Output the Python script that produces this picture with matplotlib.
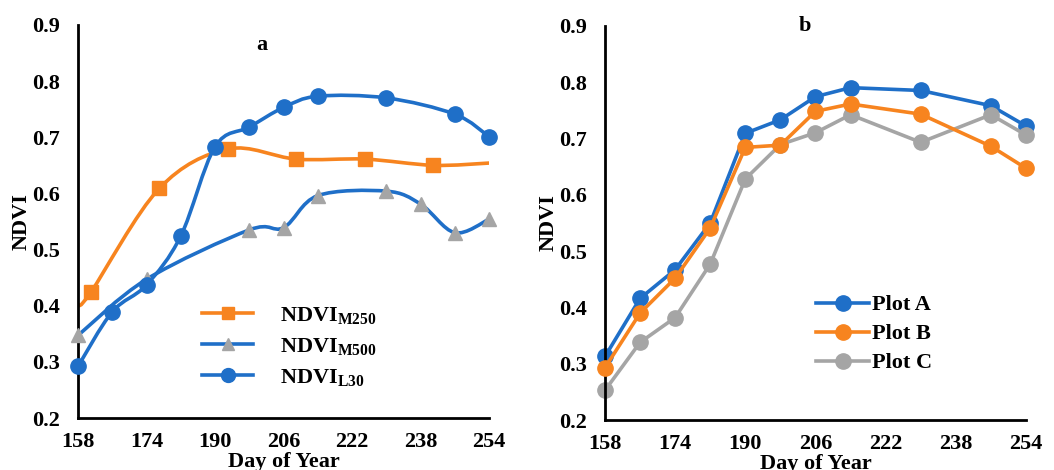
import numpy as np
import matplotlib
matplotlib.use("Agg")
import matplotlib.pyplot as plt
from matplotlib.path import Path
from matplotlib.patches import PathPatch
from matplotlib.lines import Line2D

plt.rcParams['font.family'] = ['Liberation Serif', 'DejaVu Serif']
plt.rcParams['font.weight'] = 'bold'
plt.rcParams['mathtext.fontset'] = 'custom'
plt.rcParams['mathtext.bf'] = 'Liberation Serif:bold'
plt.rcParams['mathtext.rm'] = 'Liberation Serif:bold'

blue = '#1f6fc8'
orange = '#f7841f'
gray = '#a5a5a5'

# panel a
m250_day = [158, 161, 177, 193, 209, 225, 241, 254]
m250_val = [0.400, 0.424, 0.609, 0.679, 0.661, 0.661, 0.650, 0.654]
m500_day = [158, 174, 198, 206, 214, 230, 238, 246, 254]
m500_val = [0.347, 0.447, 0.535, 0.539, 0.596, 0.604, 0.581, 0.530, 0.554]
l30_day = [158, 166, 174, 182, 190, 198, 206, 214, 230, 246, 254]
l30_val = [0.292, 0.389, 0.437, 0.524, 0.683, 0.718, 0.753, 0.773, 0.770, 0.741, 0.701]

# panel b
doy = [158, 166, 174, 182, 190, 198, 206, 214, 230, 246, 254]
plot_a = [0.313, 0.416, 0.467, 0.550, 0.709, 0.733, 0.774, 0.790, 0.785, 0.758, 0.722]
plot_b = [0.293, 0.390, 0.452, 0.541, 0.684, 0.688, 0.748, 0.761, 0.743, 0.686, 0.647]
plot_c = [0.253, 0.338, 0.382, 0.477, 0.628, 0.689, 0.710, 0.742, 0.693, 0.742, 0.706]

xticks = [158, 174, 190, 206, 222, 238, 254]
yticks = [0.2, 0.3, 0.4, 0.5, 0.6, 0.7, 0.8, 0.9]


def smooth(ax, x, y, color):
    # excel style smoothed line: cubic bezier segments through the points
    p = np.column_stack([x, y]).astype(float)
    verts = [p[0]]
    codes = [Path.MOVETO]
    n = len(p)
    for i in range(n - 1):
        p0 = p[i - 1] if i > 0 else p[i]
        p3 = p[i + 2] if i + 2 < n else p[i + 1]
        c1 = p[i] + (p[i + 1] - p0) / 6.0
        c2 = p[i + 1] - (p3 - p[i]) / 6.0
        verts += [c1, c2, p[i + 1]]
        codes += [Path.CURVE4] * 3
    ax.add_patch(PathPatch(Path(verts, codes), fill=False, edgecolor=color,
                           lw=2.6, capstyle='round', joinstyle='round', zorder=2))


def style(ax):
    ax.set_xlim(158, 254)
    ax.set_ylim(0.2, 0.9)
    ax.set_xticks(xticks)
    ax.set_yticks(yticks)
    ax.set_yticklabels(['%.1f' % v for v in yticks])
    for s in ['top', 'right']:
        ax.spines[s].set_visible(False)
    for s in ['left', 'bottom']:
        ax.spines[s].set_linewidth(2)
    ax.tick_params(axis='x', length=0, pad=10, labelsize=16)
    ax.tick_params(axis='y', length=0, pad=13, labelsize=16)
    ax.set_xlabel('Day of Year', fontsize=16, fontweight='bold', labelpad=0)
    ax.set_ylabel('NDVI', fontsize=16, fontweight='bold', labelpad=0)


fig = plt.figure(figsize=(10.54, 4.70), dpi=100)
ax1 = fig.add_axes([0.074, 0.1106, 0.39, 0.8364])
ax2 = fig.add_axes([0.574, 0.106, 0.3994, 0.8394])

# a
smooth(ax1, m250_day, m250_val, orange)
smooth(ax1, m500_day, m500_val, blue)
smooth(ax1, l30_day, l30_val, blue)
ax1.plot(m250_day[1:-1], m250_val[1:-1], 's', color=orange, ms=10, zorder=3, clip_on=False)
ax1.plot(m500_day, m500_val, '^', color=gray, ms=10, zorder=3, clip_on=False)
ax1.plot(l30_day, l30_val, 'o', color=blue, ms=11, zorder=4, clip_on=False)
style(ax1)
ax1.text(0.448, 0.949, 'a', transform=ax1.transAxes, ha='center', va='center',
         fontsize=16, fontweight='bold')
h1 = [Line2D([], [], color=orange, lw=2.6, marker='s', ms=9),
      Line2D([], [], color=blue, lw=2.6, marker='^', ms=9, mfc=gray, mec=gray),
      Line2D([], [], color=blue, lw=2.6, marker='o', ms=10)]
ax1.legend(h1, [r'NDVI$_{\mathbf{M250}}$', r'NDVI$_{\mathbf{M500}}$', r'NDVI$_{\mathbf{L30}}$'],
           loc='upper left', bbox_to_anchor=(0.28, 0.31), frameon=False,
           fontsize=16, handlelength=2.3, handletextpad=1.2, labelspacing=0.42,
           borderaxespad=0)

# b
ax2.plot(doy, plot_c, '-o', color=gray, lw=2.6, ms=11, zorder=2, clip_on=False, label='Plot C')
ax2.plot(doy, plot_b, '-o', color=orange, lw=2.6, ms=11, zorder=3, clip_on=False, label='Plot B')
ax2.plot(doy, plot_a, '-o', color=blue, lw=2.6, ms=11, zorder=1, clip_on=False, label='Plot A')
style(ax2)
ax2.text(0.475, 1.0, 'b', transform=ax2.transAxes, ha='center', va='center',
         fontsize=16, fontweight='bold')
hh, ll = ax2.get_legend_handles_labels()
ax2.legend(hh[::-1], ll[::-1], loc='upper left', bbox_to_anchor=(0.48, 0.34),
           frameon=False, fontsize=16, handlelength=2.4, handletextpad=0.1,
           labelspacing=0.38, borderaxespad=0)

fig.savefig('out.png', dpi=100)
